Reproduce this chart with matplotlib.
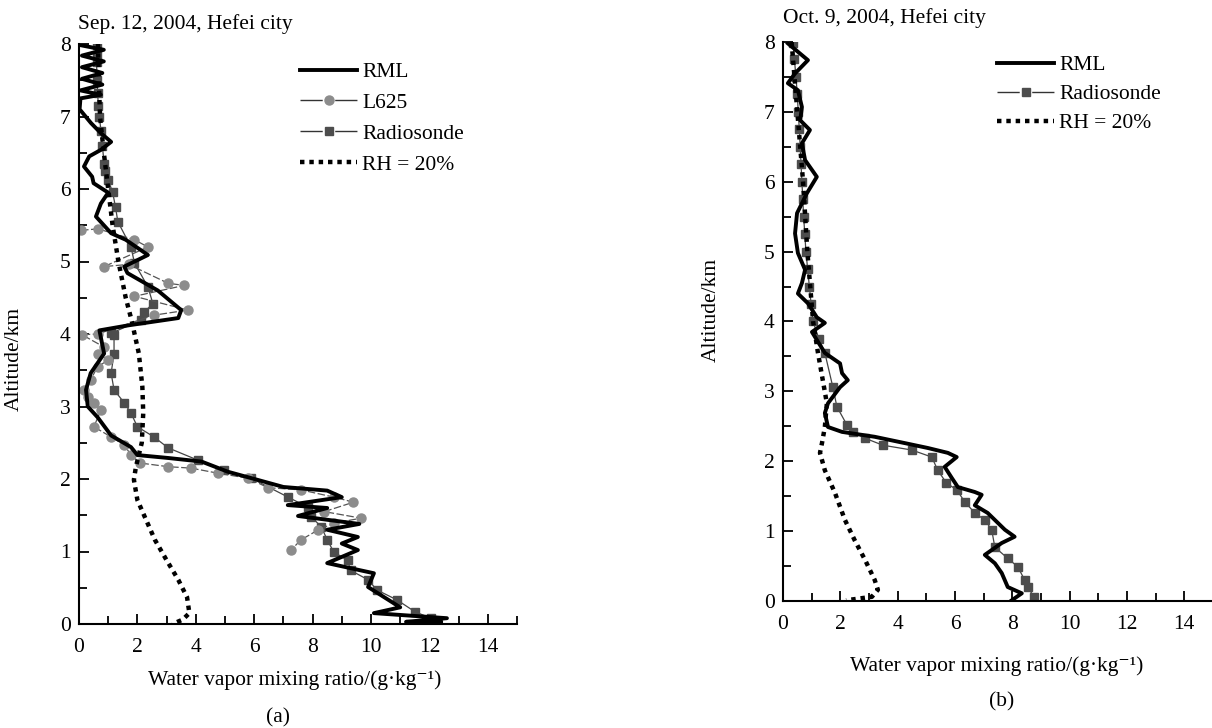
import matplotlib
matplotlib.use("Agg")
import matplotlib.pyplot as plt
from matplotlib.lines import Line2D
from matplotlib.ticker import MultipleLocator

plt.rcParams['font.family'] = ['Liberation Serif', 'DejaVu Serif']
plt.rcParams['font.size'] = 15.5

# ---- (a) Sep. 12, 2004 ----
rml_a_x = [0.1, 0.85, 0.1, 0.85, 0.1, 0.8, 0.1, 0.8, 0.05, 0.75, 0.05, 0.02, 0.41, 0.75, 1.1, 0.75,
           0.35, 0.17, 0.45, 0.5, 1.0, 0.75, 0.58, 1.1, 1.6, 2.36, 1.55, 1.66, 2.7, 3.5, 3.4, 1.7, 0.7,
           0.75, 0.86, 0.4, 0.24, 0.3, 0.64, 1.1, 1.78, 2.0, 3.05, 4.2, 5.1, 6.1, 7.0, 8.5, 9.0, 7.15,
           8.5, 7.5, 9.6, 8.5, 9.55, 9.0, 9.55, 8.5, 10.1, 9.9, 11.0, 10.1, 12.6, 11.2, 12.4]
rml_a_y = [7.98, 7.92, 7.84, 7.76, 7.68, 7.6, 7.52, 7.44, 7.36, 7.3, 7.25, 7.1, 6.91, 6.77, 6.65, 6.54,
           6.45, 6.31, 6.17, 6.08, 5.95, 5.8, 5.62, 5.39, 5.3, 5.09, 4.93, 4.84, 4.6, 4.33, 4.22, 4.12, 4.05,
           3.95, 3.73, 3.46, 3.23, 3.0, 2.85, 2.6, 2.44, 2.33, 2.29, 2.24, 2.1, 1.99, 1.89, 1.84, 1.75, 1.64,
           1.6, 1.49, 1.38, 1.3, 1.2, 1.11, 1.02, 0.84, 0.7, 0.51, 0.23, 0.15, 0.08, 0.03, 0.02]

l625_x = [0.07, 0.65, 1.9, 2.36, 0.86, 1.7, 3.05, 3.6, 1.9, 3.73, 2.57, 0.64, 0.1, 0.86, 0.64, 1.0,
          0.64, 0.4, 0.18, 0.3, 0.51, 0.75, 0.51, 1.1, 1.55, 1.78, 2.1, 3.05, 3.84, 4.76, 5.8, 6.47,
          7.6, 8.73, 9.4, 8.4, 9.66, 8.73, 8.2, 7.6, 7.26]
l625_y = [5.43, 5.45, 5.3, 5.2, 4.93, 4.96, 4.7, 4.67, 4.52, 4.33, 4.26, 4.0, 3.99, 3.82, 3.73, 3.64,
          3.55, 3.37, 3.23, 3.13, 3.05, 2.95, 2.72, 2.58, 2.47, 2.33, 2.22, 2.17, 2.15, 2.08, 2.01, 1.88,
          1.85, 1.75, 1.68, 1.55, 1.46, 1.39, 1.3, 1.16, 1.02]

sonde_a_x = [0.6, 0.62, 0.6, 0.62, 0.64, 0.66, 0.7, 0.75, 0.8, 0.86, 0.9, 1.0, 1.15, 1.25, 1.33, 1.78,
             1.9, 2.36, 2.53, 2.23, 2.12, 1.1, 1.2, 1.2, 1.1, 1.2, 1.55, 1.78, 2.0, 2.57, 3.05, 4.07,
             4.97, 5.9, 7.16, 7.84, 7.95, 8.3, 8.5, 8.73, 9.2, 9.3, 9.9, 10.2, 10.9, 11.5, 12.05]
sonde_a_y = [7.98, 7.85, 7.75, 7.5, 7.32, 7.15, 7.0, 6.8, 6.6, 6.35, 6.25, 6.12, 5.96, 5.75, 5.55, 5.2,
             4.98, 4.65, 4.42, 4.3, 4.19, 4.01, 3.98, 3.73, 3.46, 3.23, 3.05, 2.91, 2.72, 2.58, 2.43, 2.26,
             2.12, 2.01, 1.75, 1.61, 1.48, 1.34, 1.16, 0.99, 0.88, 0.74, 0.61, 0.47, 0.33, 0.17, 0.08]

rh_a_x = [0.65, 0.68, 0.72, 0.85, 1.0, 1.15, 1.35, 1.6, 1.8, 2.05, 2.17, 2.2, 2.15, 1.95, 1.88, 2.0,
          2.25, 2.6, 3.0, 3.4, 3.7, 3.78, 3.55, 3.2]
rh_a_y = [8.0, 7.5, 7.0, 6.5, 6.0, 5.5, 5.0, 4.5, 4.19, 3.73, 3.27, 2.91, 2.5, 2.17, 1.99, 1.71,
          1.48, 1.16, 0.88, 0.61, 0.37, 0.15, 0.06, 0.0]

# ---- (b) Oct. 9, 2004 ----
rml_b_x = [0.17, 0.87, 0.42, 0.17, 0.52, 0.66, 0.6, 0.94, 0.66, 0.77, 1.18, 0.84, 0.49, 0.42, 0.52,
           0.77, 0.66, 0.52, 0.87, 1.18, 1.46, 1.01, 1.46, 1.99, 2.06, 2.26, 1.99, 1.57, 1.46, 1.57,
           2.06, 3.2, 4.36, 5.05, 5.75, 6.06, 5.64, 5.89, 6.1, 6.69, 6.93, 6.69, 7.14, 7.74, 8.08,
           7.63, 7.04, 7.39, 7.63, 7.84, 8.33, 7.98]
rml_b_y = [7.98, 7.74, 7.55, 7.41, 7.31, 7.07, 6.88, 6.74, 6.55, 6.31, 6.07, 5.84, 5.55, 5.26, 4.98,
           4.74, 4.55, 4.4, 4.26, 4.06, 3.98, 3.85, 3.55, 3.4, 3.26, 3.16, 3.06, 2.83, 2.69, 2.49,
           2.42, 2.35, 2.25, 2.19, 2.12, 2.06, 1.92, 1.76, 1.63, 1.56, 1.52, 1.37, 1.26, 1.02, 0.92,
           0.83, 0.66, 0.54, 0.4, 0.2, 0.11, 0.01]

sonde_b_x = [0.35, 0.4, 0.45, 0.5, 0.53, 0.57, 0.6, 0.63, 0.66, 0.69, 0.72, 0.76, 0.8, 0.86, 0.92,
             0.98, 1.05, 1.25, 1.46, 1.74, 1.88, 2.23, 2.44, 2.86, 3.48, 4.5, 5.19, 5.4, 5.7, 6.06,
             6.34, 6.69, 7.04, 7.28, 7.39, 7.84, 8.19, 8.43, 8.54, 8.75]
sonde_b_y = [7.98, 7.75, 7.5, 7.25, 7.0, 6.75, 6.5, 6.25, 6.0, 5.75, 5.5, 5.25, 5.0, 4.75, 4.5,
             4.25, 4.0, 3.75, 3.55, 3.06, 2.78, 2.52, 2.42, 2.33, 2.23, 2.16, 2.06, 1.87, 1.69, 1.59,
             1.42, 1.26, 1.16, 1.02, 0.77, 0.61, 0.49, 0.3, 0.2, 0.06]

rh_b_x = [0.3, 0.5, 0.7, 0.85, 1.05, 1.22, 1.53, 1.46, 1.36, 1.29, 1.46, 1.81, 2.16, 2.5, 2.86,
          3.2, 3.31, 3.1, 2.2]
rh_b_y = [8.0, 7.0, 6.0, 5.0, 4.0, 3.55, 2.83, 2.49, 2.26, 2.12, 1.87, 1.55, 1.16, 0.87, 0.59,
          0.3, 0.16, 0.06, 0.01]

fig = plt.figure(figsize=(12.12, 7.28), dpi=100)
W, H = 1212.0, 728.0
axa = fig.add_axes([79 / W, 1 - 624 / H, 438 / W, 580 / H])
axb = fig.add_axes([783 / W, 1 - 601 / H, 430 / W, 559 / H])

rml_kw = dict(color="black", lw=2.8, solid_joinstyle="round")
l625_kw = dict(color="#555555", lw=0.9, ls=(0, (6, 2)), marker="o", ms=6.5,
               mfc="#8c8c8c", mec="#8c8c8c")
sonde_kw = dict(color="#444444", lw=0.9, marker="s", ms=5.5, mfc="#4d4d4d", mec="#4d4d4d")
rh_kw = dict(color="black", lw=3.2, ls=(0, (1, 1.1)), dash_capstyle="butt")

axa.plot(sonde_a_x, sonde_a_y, **sonde_kw)
axa.plot(l625_x, l625_y, **l625_kw)
axa.plot(rh_a_x, rh_a_y, **rh_kw)
axa.plot(rml_a_x, rml_a_y, **rml_kw)

axb.plot(sonde_b_x, sonde_b_y, **sonde_kw)
axb.plot(rh_b_x, rh_b_y, **rh_kw)
axb.plot(rml_b_x, rml_b_y, **rml_kw)

for ax in (axa, axb):
    ax.set_xlim(0, 15)
    ax.set_ylim(0, 8)
    for s in ("top", "right"):
        ax.spines[s].set_visible(False)
    ax.spines["left"].set_linewidth(1.5)
    ax.spines["bottom"].set_linewidth(1.5)
    ax.xaxis.set_major_locator(MultipleLocator(2))
    ax.xaxis.set_minor_locator(MultipleLocator(1))
    ax.yaxis.set_major_locator(MultipleLocator(1))
    ax.yaxis.set_minor_locator(MultipleLocator(0.5))
    ax.tick_params(which="both", direction="in", width=1.3, labelsize=15.5)
    ax.tick_params(which="major", length=7)
    ax.tick_params(which="minor", length=6)
    ax.tick_params(axis="x", pad=10)
    ax.tick_params(axis="y", pad=6)

axa.set_ylabel("Altitude/km")
axa.yaxis.set_label_coords(-0.125, 0.457)
axb.set_ylabel("Altitude/km")
axb.yaxis.set_label_coords(-0.145, 0.52)

xlab = "Water vapor mixing ratio/(g·kg⁻¹)"
fig.text(295 / W, 1 - 680 / H, xlab, ha="center", va="center")
fig.text(997 / W, 1 - 666 / H, xlab, ha="center", va="center")
fig.text(278 / W, 1 - 718 / H, "(a)", ha="center", va="center")
fig.text(1002 / W, 1 - 702 / H, "(b)", ha="center", va="center")

fig.text(78 / W, 1 - 24 / H, "Sep. 12, 2004, Hefei city", ha="left", va="center")
fig.text(783 / W, 1 - 18 / H, "Oct. 9, 2004, Hefei city", ha="left", va="center")

h_rml = Line2D([], [], **rml_kw)
h_l625 = Line2D([], [], color="#333333", lw=1.0, ls=(0, (16, 9)), marker="o", ms=6.5,
                mfc="#8c8c8c", mec="#8c8c8c")
h_sonde = Line2D([], [], color="#333333", lw=1.0, ls=(0, (16, 9)), marker="s", ms=5.5,
                 mfc="#4d4d4d", mec="#4d4d4d")
h_rh = Line2D([], [], **rh_kw)

leg_kw = dict(loc="upper left", frameon=False, borderpad=0, borderaxespad=0,
              handlelength=2.65, handletextpad=0.25, labelspacing=0.5, numpoints=1)
fig.legend([h_rml, h_l625, h_sonde, h_rh], ["RML", "L625", "Radiosonde", "RH = 20%"],
           bbox_to_anchor=(300 / W, 1 - 62 / H), **leg_kw)
fig.legend([h_rml, h_sonde, h_rh], ["RML", "Radiosonde", "RH = 20%"],
           bbox_to_anchor=(997 / W, 1 - 55 / H), **dict(leg_kw, labelspacing=0.42))

fig.savefig("out.png", dpi=100)
